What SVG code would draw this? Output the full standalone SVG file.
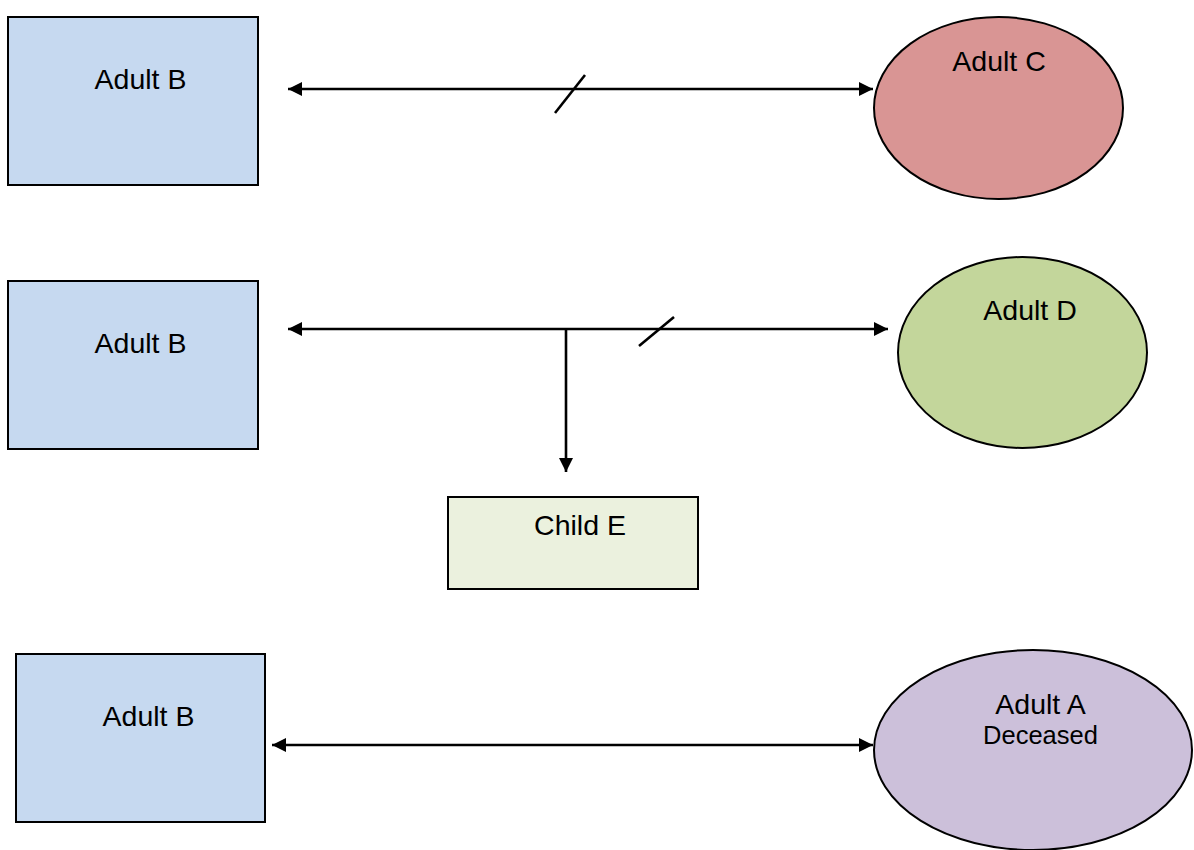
<svg xmlns="http://www.w3.org/2000/svg" width="1194" height="850" viewBox="0 0 1194 850">
<style>
.n{stroke:#000;stroke-width:2}
.t{font-family:"Liberation Sans",Arial,sans-serif;font-size:28.5px;fill:#000;text-anchor:middle}
.s{font-size:25.5px}
.c{stroke:#000;stroke-width:2.6;fill:none}
</style>
<defs>
<marker id="ah" viewBox="0 0 10 10" refX="10" refY="5" markerWidth="17" markerHeight="14" markerUnits="userSpaceOnUse" orient="auto-start-reverse"><path d="M0,0 L10,5 L0,10 z" fill="#000"/></marker>
</defs>
<rect width="1194" height="850" fill="#fff"/>
<g id="connectors">
<line class="c" x1="288" y1="89" x2="873" y2="89" marker-start="url(#ah)" marker-end="url(#ah)"/>
<line class="c" x1="555" y1="113" x2="585" y2="75"/>
<line class="c" x1="288" y1="329" x2="888" y2="329" marker-start="url(#ah)" marker-end="url(#ah)"/>
<line class="c" x1="566" y1="329" x2="566" y2="472" marker-end="url(#ah)"/>
<line class="c" x1="639" y1="346" x2="674" y2="317"/>
<line class="c" x1="272" y1="745" x2="873" y2="745" marker-start="url(#ah)" marker-end="url(#ah)"/>
</g>
<g id="adultB1"><rect class="n" x="8" y="17" width="250" height="168" fill="#c6d9f0"/><text class="t" x="140.5" y="89">Adult B</text></g>
<g id="adultC"><ellipse class="n" cx="998.5" cy="108" rx="124.5" ry="91" fill="#d99594"/><text class="t" x="999" y="71">Adult C</text></g>
<g id="adultB2"><rect class="n" x="8" y="281" width="250" height="168" fill="#c6d9f0"/><text class="t" x="140.5" y="353">Adult B</text></g>
<g id="adultD"><ellipse class="n" cx="1022.5" cy="352.5" rx="124.5" ry="95.5" fill="#c3d69b"/><text class="t" x="1030" y="320">Adult D</text></g>
<g id="childE"><rect class="n" x="448" y="497" width="250" height="92" fill="#ebf1de"/><text class="t" x="580" y="535">Child E</text></g>
<g id="adultB3"><rect class="n" x="16" y="654" width="249" height="168" fill="#c6d9f0"/><text class="t" x="148.5" y="726">Adult B</text></g>
<g id="adultA"><ellipse class="n" cx="1033" cy="750" rx="159" ry="100" fill="#ccc0da"/><text class="t" x="1040.5" y="714">Adult A</text><text class="t s" x="1040.5" y="744">Deceased</text></g>
</svg>
